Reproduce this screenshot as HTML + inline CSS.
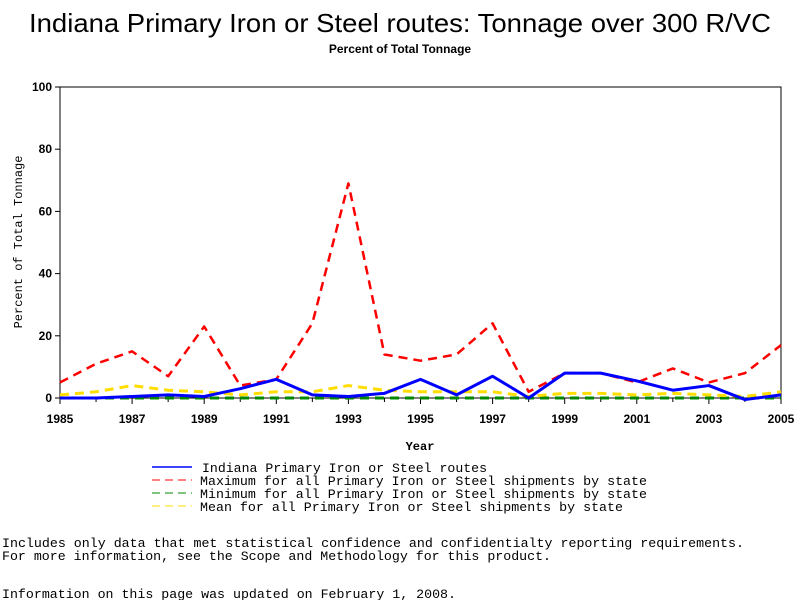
<!DOCTYPE html>
<html><head><meta charset="utf-8"><style>
body{margin:0;background:#fff;width:800px;height:600px;overflow:hidden}
svg text{font-family:"Liberation Sans",sans-serif}
.mono{font-family:"Liberation Mono",monospace}
</style></head><body>
<svg id="chart" width="800" height="600">
<text x="400" y="32" text-anchor="middle" font-size="26" textLength="742" lengthAdjust="spacingAndGlyphs">Indiana Primary Iron or Steel routes: Tonnage over 300 R/VC</text>
<text x="400" y="53" text-anchor="middle" font-size="12" font-weight="bold">Percent of Total Tonnage</text>
<rect x="60" y="87" width="721" height="311" fill="none" stroke="#000" stroke-width="1"/>
<g id="axes"></g>
<g id="series"></g>
<text x="420" y="450" text-anchor="middle" font-size="12" font-weight="bold" class="mono">Year</text>
<text transform="translate(22,242) rotate(-90)" text-anchor="middle" font-size="12" class="mono">Percent of Total Tonnage</text>
<g font-size="13" class="mono">
<line x1="152" y1="467" x2="192" y2="467" stroke="#00f" stroke-width="1.5"/>
<text x="202" y="472" class="mono" textLength="285" lengthAdjust="spacingAndGlyphs">Indiana Primary Iron or Steel routes</text>
<line x1="152" y1="480" x2="192" y2="480" stroke="#f00" stroke-dasharray="8,5"/>
<text x="200" y="485" class="mono" textLength="447" lengthAdjust="spacingAndGlyphs">Maximum for all Primary Iron or Steel shipments by state</text>
<line x1="152" y1="493" x2="192" y2="493" stroke="#080" stroke-dasharray="8,5"/>
<text x="200" y="498" class="mono" textLength="447" lengthAdjust="spacingAndGlyphs">Minimum for all Primary Iron or Steel shipments by state</text>
<line x1="152" y1="506" x2="192" y2="506" stroke="#fd0" stroke-dasharray="8,5"/>
<text x="200" y="511" class="mono" textLength="423" lengthAdjust="spacingAndGlyphs">Mean for all Primary Iron or Steel shipments by state</text>
</g>
<text x="2" y="547" font-size="13" class="mono" textLength="742" lengthAdjust="spacingAndGlyphs">Includes only data that met statistical confidence and confidentialty reporting requirements.</text>
<text x="2" y="560" font-size="13" class="mono" textLength="549" lengthAdjust="spacingAndGlyphs">For more information, see the Scope and Methodology for this product.</text>
<text x="2" y="598" font-size="13" class="mono" textLength="454" lengthAdjust="spacingAndGlyphs">Information on this page was updated on February 1, 2008.</text>
</svg>
<script>
const years=[1985,1986,1987,1988,1989,1990,1991,1992,1993,1994,1995,1996,1997,1998,1999,2000,2001,2002,2003,2004,2005];
const maxVals=[5,11,15,7,23,4,6,24,69,14,12,14,24,2,8,8,5,9.5,5,8,17];
const indianaVals=[0,0,0.5,1,0.5,3,6,1,0.5,1.5,6,1,7,0,8,8,5.5,2.5,4,-0.5,1];
const meanVals=[1,2,4,2.5,2,1,2,2,4,2.5,2,2,2,0.5,1.5,1.5,1,1.5,1,0.5,2];
const minVals=[0,0,0,0,0,0,0,0,0,0,0,0,0,0,0,0,0,0,0,0,0];
const yTicks=[0,20,40,60,80,100];
const xTicks=[1985,1987,1989,1991,1993,1995,1997,1999,2001,2003,2005];
const X=v=>60+(v-1985)*721/20, Y=v=>398-v*3.11;
const NS="http://www.w3.org/2000/svg";
const axes=document.getElementById('axes'), ser=document.getElementById('series');
function mk(tag,attrs,parent){const e=document.createElementNS(NS,tag);for(const k in attrs)e.setAttribute(k,attrs[k]);parent.appendChild(e);return e;}
yTicks.forEach(t=>{
  const l=mk('line',{x1:55,x2:60,y1:Y(t),y2:Y(t),stroke:'#000'},axes);
  
  
  const tx=mk('text',{x:52,y:Y(t)+4,'text-anchor':'end','font-size':12,'font-weight':'bold'},axes);
  tx.textContent=t;
  
  
});
years.forEach(t=>{
  const big=xTicks.includes(t);
  const l=mk('line',{x1:X(t),x2:X(t),y1:398,y2:big?404:402,stroke:'#000'},axes);
  
  
});
xTicks.forEach(t=>{
  const tx=mk('text',{x:X(t),y:423,'text-anchor':'middle','font-size':12,'font-weight':'bold'},axes);
  tx.textContent=t;
  
  
});
function line(vals,color,dash,w,name){
  const p=mk('polyline',{points:vals.map((v,i)=>X(years[i])+','+Y(v)).join(' '),fill:'none',stroke:color,'stroke-width':w,'stroke-dasharray':dash||'none','stroke-linejoin':'round'},ser);
  
  
}
line(minVals,'#080','9,6',3,'series-minimum');
line(meanVals,'#fd0','9,6',3,'series-mean');
line(maxVals,'#f00','9,6',2.5,'series-maximum');
line(indianaVals,'#00f',null,3,'series-indiana');
</script>
</body></html>
